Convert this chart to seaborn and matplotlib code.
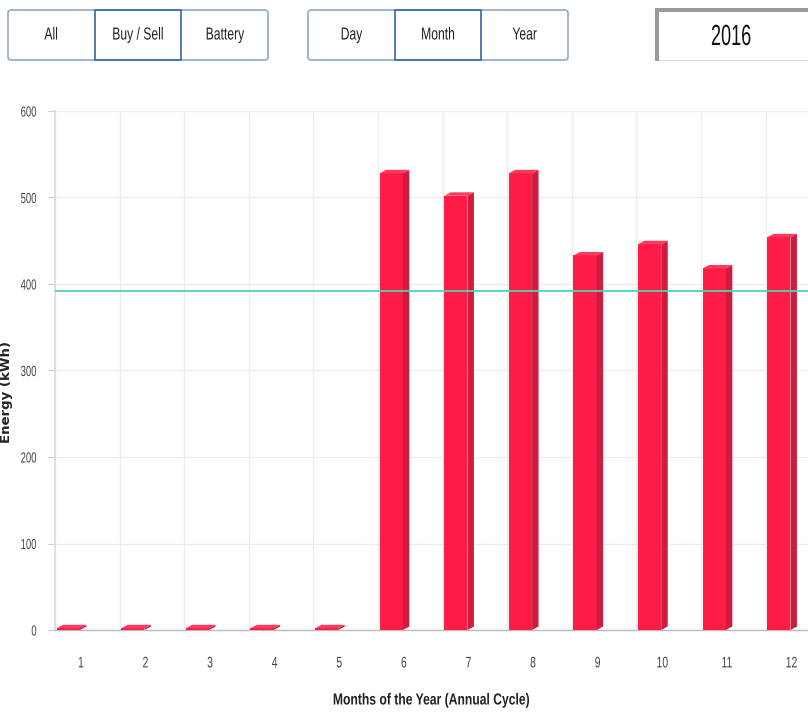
import matplotlib
matplotlib.use("Agg")
import matplotlib.pyplot as plt
from matplotlib.patches import Polygon, FancyBboxPatch, Rectangle
from matplotlib.patheffects import AbstractPathEffect
from matplotlib.transforms import Affine2D
import seaborn as sns
import pandas as pd

# Monthly energy for the selected year (kWh)
months = ["1", "2", "3", "4", "5", "6", "7", "8", "9", "10", "11", "12"]
energy = [2, 2, 2, 2, 2, 528, 502, 528, 433, 446, 418, 454]
reference_level = 392
y_ticks = [0, 100, 200, 300, 400, 500, 600]
year_label = "2016"
group_a = ["All", "Buy / Sell", "Battery"]
group_b = ["Day", "Month", "Year"]
selected = {"Buy / Sell", "Month"}

W, H = 808, 712
sns.set_theme(style="white")
plt.rcParams["font.family"] = ["Liberation Sans", "DejaVu Sans"]


class Condensed(AbstractPathEffect):
    """Squeeze a text path horizontally around an anchor edge or its centre."""

    def __init__(self, sx=0.75, anchor="center"):
        super().__init__()
        self.sx = sx
        self.anchor = anchor

    def draw_path(self, renderer, gc, tpath, affine, rgbFace=None):
        ext = tpath.get_extents(affine)
        if self.anchor == "right":
            cx = ext.x1
        elif self.anchor == "left":
            cx = ext.x0
        else:
            cx = 0.5 * (ext.x0 + ext.x1)
        squeeze = Affine2D().translate(-cx, 0).scale(self.sx, 1).translate(cx, 0)
        renderer.draw_path(gc, tpath, affine + squeeze, rgbFace)


fig = plt.figure(figsize=(W / 100, H / 100), dpi=100)
fig.patch.set_facecolor("white")


def fx(x):
    return x / W


def fy(y):
    return 1 - y / H


ax = fig.add_axes([fx(55), fy(630), fx(12 * 64.6), (630 - 111) / H])

df = pd.DataFrame({"month": months, "energy": energy})
front = "#ff1d47"
side = "#cf1b3e"
top = "#ff3a5e"
sns.barplot(data=df, x="month", y="energy", order=months, color=front,
            saturation=1, width=0.36, ax=ax, zorder=3)

# shift bar fronts left of the tick and add top/side faces for a 3D look
dx, dy = 0.1, 4
for i, (patch, v) in enumerate(zip(ax.patches, energy)):
    x0 = i - 0.375
    patch.set_x(x0)
    patch.set_edgecolor("none")
    x1 = x0 + patch.get_width()
    ax.add_patch(Polygon([(x1, 0), (x1 + dx, dy), (x1 + dx, v + dy), (x1, v)],
                         closed=True, facecolor=side, edgecolor="none", zorder=3))
    ax.add_patch(Polygon([(x0, v), (x0 + dx, v + dy), (x1 + dx, v + dy), (x1, v)],
                         closed=True, facecolor=top, edgecolor="none", zorder=3))

ax.axhline(reference_level, color="#4fd3b5", lw=1.3, zorder=4)

ax.set_xlim(-0.4, 11.6)
ax.set_ylim(0, 600)
ax.set_yticks(y_ticks)
ax.set_yticklabels([str(t) for t in y_ticks], fontsize=10.5, color="#444444")
ax.set_xticks(range(len(months)))
ax.set_xticklabels(months, fontsize=11, color="#444444")
ax.tick_params(axis="y", length=5, width=0.8, color="#cccccc", pad=8, left=True)
ax.tick_params(axis="x", length=0, pad=19)
for lbl in ax.get_yticklabels():
    lbl.set_path_effects([Condensed(0.65, "right")])
for lbl in ax.get_xticklabels():
    lbl.set_path_effects([Condensed(0.68, "center")])

for t in y_ticks:
    ax.axhline(t, color="#ececec", lw=0.9, zorder=0)
for k in range(13):
    ax.axvline(k - 0.4, color="#ececec", lw=0.9, zorder=0)

for s in ["top", "right"]:
    ax.spines[s].set_visible(False)
ax.spines["left"].set_color("#dddddd")
ax.spines["bottom"].set_color("#bbbbbb")
ax.spines["bottom"].set_linewidth(1.0)
ax.set_xlabel("")
ax.set_ylabel("")

fig.text(fx(7), fy(392), "Energy (kWh)", rotation=90, ha="center", va="center",
         fontsize=9.5, fontweight="bold", family=["DejaVu Sans"], color="#222222")
fig.text(fx(432), fy(700), "Months of the Year (Annual Cycle)", ha="center", va="center",
         fontsize=11.5, fontweight="bold", color="#222222",
         path_effects=[Condensed(0.76, "center")])


def button_group(labels, left, width):
    seg = width / len(labels)
    fig.add_artist(FancyBboxPatch((fx(left), fy(60)), fx(width), (60 - 10) / H,
                                  boxstyle="round,pad=0,rounding_size=0.004",
                                  transform=fig.transFigure, facecolor="white",
                                  edgecolor="#8fa9c8", lw=1.2))
    for j, lab in enumerate(labels):
        x0 = left + j * seg
        if lab in selected:
            fig.add_artist(Rectangle((fx(x0), fy(60)), fx(seg), (60 - 10) / H,
                                     transform=fig.transFigure, facecolor="none",
                                     edgecolor="#3469a6", lw=1.2))
        fig.text(fx(x0 + seg / 2), fy(35), lab, ha="center", va="center",
                 fontsize=12.5, color="#222222",
                 path_effects=[Condensed(0.7, "center")])


button_group(group_a, 8, 260)
button_group(group_b, 308, 260)

# year box
fig.add_artist(Rectangle((fx(655), fy(61)), fx(160), (61 - 8) / H,
                         transform=fig.transFigure, facecolor="white",
                         edgecolor="none"))
fig.add_artist(Rectangle((fx(655), fy(61)), fx(4), (61 - 8) / H,
                         transform=fig.transFigure, facecolor="#999999", edgecolor="none"))
fig.add_artist(Rectangle((fx(655), fy(12)), fx(160), 4 / H,
                         transform=fig.transFigure, facecolor="#999999", edgecolor="none"))
fig.add_artist(Rectangle((fx(659), fy(61)), fx(160), 1 / H,
                         transform=fig.transFigure, facecolor="#dddddd", edgecolor="none"))
fig.text(fx(731), fy(37), year_label, ha="center", va="center", fontsize=21,
         color="#111111", path_effects=[Condensed(0.62, "center")])

fig.savefig("out.png", dpi=100, facecolor="white")
